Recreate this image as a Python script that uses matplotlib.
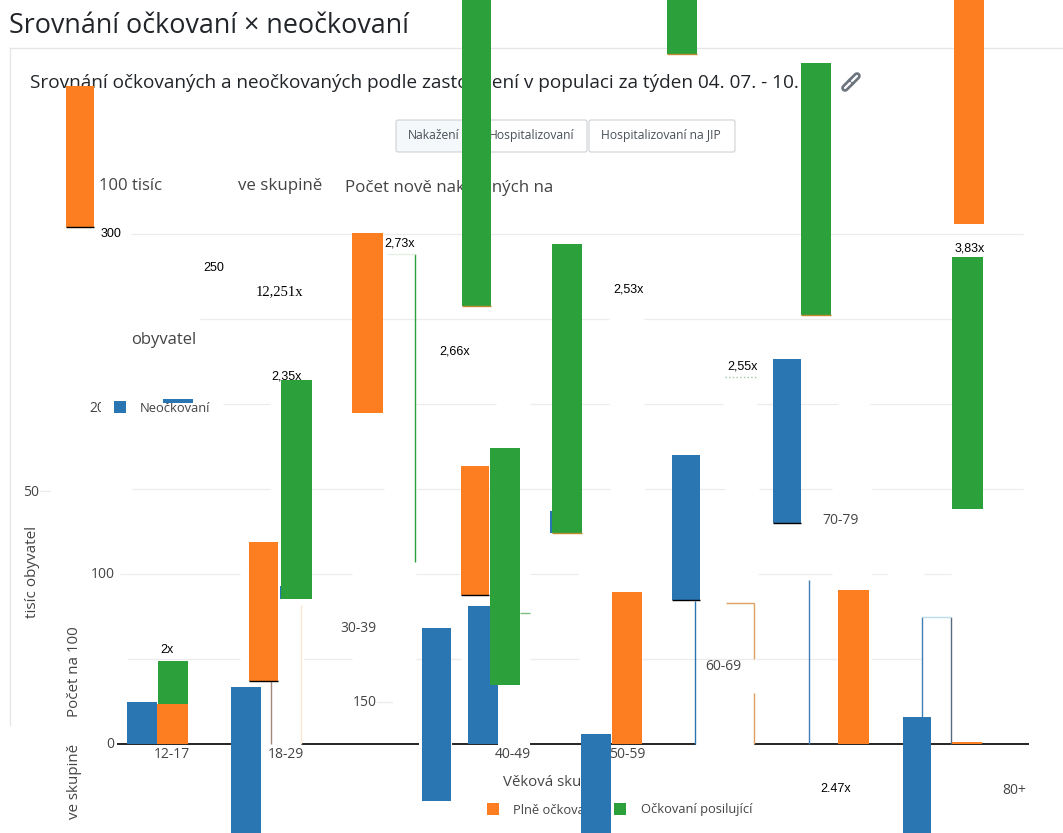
import matplotlib
matplotlib.use("Agg")
import matplotlib.pyplot as plt
from matplotlib.patches import FancyBboxPatch, Rectangle

W, H = 1063, 833

BLUE = "#2a76b2"
ORANGE = "#fd7e21"
GREEN = "#2ca03a"

# bars as they sit in the picture: left edge, width (pixels across), top and bottom in chart values
blue_left = [127, 231, 422, 468, 581, 672, 773, 903, 163, 550, 280]
blue_width = [30, 30, 29, 30, 30, 28, 28, 28, 30, 3, 3]
blue_top = [24.7, 33.5, 68.2, 81.2, 5.9, 170, 226.5, 15.9, 202.9, 137, 92.9]
blue_bottom = [0, -60, -33.5, 0, -60, 84.7, 130, -60, 200.6, 124, 85.3]

orange_left = [66, 157, 249, 352, 461, 612, 838, 954, 952]
orange_width = [28, 31, 29, 31, 28, 30, 31, 30, 30]
orange_top = [387, 23.5, 118.8, 300.6, 163.5, 89.4, 90.6, 440, 1]
orange_bottom = [304, 0, 37, 194.7, 87.6, 0, 0, 305.9, 0]

green_left = [158, 281, 462, 667, 801, 552, 490, 952]
green_width = [30, 31, 29, 30, 30, 30, 30, 31]
green_top = [48.8, 214, 440, 440, 400.6, 294, 174, 286.5]
green_bottom = [23.5, 85.3, 257.6, 405.9, 252.4, 124, 34.7, 138.2]

# leftover one pixel slivers of bars: x, top, bottom, colour
sliver_x = [695, 809, 922, 951, 415, 754, 754, 271, 301]
sliver_top = [84, 96.5, 74.7, 74.7, 288, 83, 30, 37, 82]
sliver_bottom = [0, 0, 15.9, 0, 107, 50, 0, 0, 0]
sliver_color = [BLUE, "#3f7fb5", "#3f7fb5", "#566a80", GREEN, "#e0a060", "#e0a060", "#a08878", "#fbe6d0"]

grid_values = [300, 250, 200, 150, 100, 50]
grid_spans = [
    [(131, 1023)],
    [(200, 609), (644, 952)],
    [(223, 270), (416, 496), (530, 609), (644, 723), (757, 838), (870, 952)],
    [(132, 270), (312, 384), (417, 610), (645, 725), (759, 832), (872, 1023)],
    [(120, 240), (312, 352), (416, 460), (530, 578), (758, 832), (872, 887), (924, 951)],
    [(128, 240), (304, 352), (416, 461), (530, 579), (642, 754), (756, 837), (872, 921)],
]
axis_spans = [(117, 231), (301, 419), (452, 498), (530, 581), (611, 696), (754, 903), (931, 1029)]

ratio_labels = ["2x", "2,35x", "2,73x", "2,66x", "2,53x", "2,55x", "2.47x", "3,83x"]
ratio_x = [167, 287, 400, 455, 628, 743, 836, 970]
ratio_y = [650, 376, 243, 351, 290, 366, 789, 248]

age_labels = ["12-17", "18-29", "30-39", "40-49", "50-59", "60-69", "70-79", "80+"]
age_x = [172, 286, 358, 513, 627, 723, 841, 1014]
age_y = [755, 755, 628, 755, 755, 667, 520, 790]

y_labels = ["300", "250", "20", "150", "100", "50", "0"]
y_x = [111, 214, 97, 365, 103, 31, 110]
y_y = [234, 268, 408, 703, 574, 492, 745]

plt.rcParams["font.family"] = ["Open Sans", "DejaVu Sans"]
fig = plt.figure(figsize=(W / 100, H / 100), dpi=100)

# page layer in pixels, everything written on the page sits below the bars
page = fig.add_axes([0, 0, 1, 1], zorder=1)
page.set_xlim(0, W)
page.set_ylim(H, 0)
page.axis("off")

# chart layer, 0 at pixel 744 and 300 at pixel 234
chart = fig.add_axes([0, 0, 1, 1], zorder=2)
chart.patch.set_alpha(0)
chart.set_xlim(0, W)
chart.set_ylim((744 - H) / 1.7, 744 / 1.7)
chart.axis("off")

# card
page.plot([10, 10], [48, 725], color="#e6e6e6", lw=1)
page.plot([10, W], [48, 48], color="#e6e6e6", lw=1)

page.text(9, 26, "Srovnání očkovaní × neočkovaní", fontsize=19.35, color="#212529", va="center")
page.text(30, 83, "Srovnání očkovaných a neočkovaných podle zastoupení v populaci za týden 04. 07. - 10. 07.",
          fontsize=13.72, color="#212529", va="center")

# link icon
page.plot([845, 851], [88, 82], color="#6c757d", lw=5.5, solid_capstyle="round")
page.plot([851, 857], [82, 76], color="#6c757d", lw=5.5, solid_capstyle="round")
page.plot([845, 850], [88, 83], color="white", lw=1.6, solid_capstyle="round")
page.plot([852, 857], [81, 76], color="white", lw=1.6, solid_capstyle="round")

# buttons
for x0, x1, face in [(396, 486, "#f5f8fb"), (486, 587, "white"), (589, 735, "white")]:
    page.add_patch(FancyBboxPatch((x0 + 2, 122), x1 - x0 - 4, 28, boxstyle="round,pad=2",
                                  fc=face, ec="#cfd1d3", lw=0.8))
page.text(408, 135, "Nakažení", fontsize=8.7, color="#495057", va="center")
page.text(489, 135, "Hospitalizovaní", fontsize=8.7, color="#495057", va="center")
page.text(601, 135, "Hospitalizovaní na JIP", fontsize=8.7, color="#495057", va="center")

# chart title pieces
page.text(99, 186, "100 tisíc", fontsize=12, color="#444444", va="center")
page.text(238, 186, "ve skupině", fontsize=12.2, color="#444444", va="center")
page.text(345, 188, "Počet nově nakažených na", fontsize=12.2, color="#444444", va="center")
page.text(131, 340, "obyvatel", fontsize=12, color="#444444", va="center")

page.text(33, 572, "tisíc obyvatel", fontsize=11, color="#444444", rotation=90, ha="center", va="center")
page.text(74, 672, "Počet na 100", fontsize=10.9, color="#444444", rotation=90, ha="center", va="center")
page.text(74, 781, "ve skupině", fontsize=10.9, color="#444444", rotation=90, ha="center", va="center")

page.text(503, 783, "Věková skupina", fontsize=10.8, color="#444444", va="center")

for lab, x, y in zip(y_labels, y_x, y_y):
    dark = lab in ("300", "250")
    page.text(x, y, lab, fontsize=9 if dark else 10, ha="center", va="center",
              color="black" if dark else "#444444",
              family="Liberation Sans" if dark else "Open Sans")
# the 20 tick label is cut off in the reference
page.add_patch(Rectangle((101, 398), 12, 18, fc="white", ec="none", zorder=5))
page.plot([40, 50], [491, 491], color="#ececec", lw=1)
page.plot([377, 392], [702, 702], color="#ececec", lw=1)

for lab, x, y in zip(age_labels, age_x, age_y):
    page.text(x, y, lab, fontsize=10, color="#444444", ha="center", va="center")

for lab, x, y in zip(ratio_labels, ratio_x, ratio_y):
    page.text(x, y, lab, fontsize=9, color="black", ha="center", va="center", family="Liberation Sans")
page.text(280, 292, "12,251x", fontsize=10.5, color="black", ha="center", va="center", family="Liberation Serif")

# legend
page.add_patch(Rectangle((114, 401), 12, 12, fc=BLUE, ec="none"))
page.text(140, 408, "Neočkovaní", fontsize=9.3, color="#444444", va="center")
page.add_patch(Rectangle((487, 803), 12, 12, fc=ORANGE, ec="none"))
page.text(513, 810, "Plně očkovaní", fontsize=9.3, color="#444444", va="center")
page.add_patch(Rectangle((614, 803), 12, 12, fc=GREEN, ec="none"))
page.text(641, 810, "Očkovaní posilující", fontsize=9.3, color="#444444", va="center")

# grid and zero line
for val, spans in zip(grid_values, grid_spans):
    for x0, x1 in spans:
        chart.hlines(val, x0, x1, color="#ececec", lw=0.9, zorder=1)
for x0, x1 in axis_spans:
    chart.hlines(0, x0, x1, color="black", lw=1.2, zorder=1)

# thin remains
for x, top, bottom, c in zip(sliver_x, sliver_top, sliver_bottom, sliver_color):
    chart.vlines(x, bottom, top, color=c, lw=1, zorder=2)
chart.hlines(288, 387, 415, color="#e4f0e4", lw=1, zorder=2)
chart.hlines(83, 726, 754, color="#e0a060", lw=1, zorder=2)
chart.hlines(74.7, 922, 951, color="#bcdcec", lw=1, zorder=2)
chart.hlines(216, 725, 756, color="#9fc99f", lw=1, ls=":", zorder=2)
chart.hlines(77, 520, 530, color="#7fbf7f", lw=1, zorder=2)

# the bars themselves
chart.bar(blue_left, [t - b for t, b in zip(blue_top, blue_bottom)], width=blue_width,
          bottom=blue_bottom, align="edge", color=BLUE, zorder=3)
chart.bar(orange_left, [t - b for t, b in zip(orange_top, orange_bottom)], width=orange_width,
          bottom=orange_bottom, align="edge", color=ORANGE, zorder=4)
chart.bar(green_left, [t - b for t, b in zip(green_top, green_bottom)], width=green_width,
          bottom=green_bottom, align="edge", color=GREEN, zorder=5)

# dark or orange edges left at the bar ends
for i in [0, 2, 4]:
    chart.hlines(orange_bottom[i], orange_left[i], orange_left[i] + orange_width[i], color="black", lw=1, zorder=6)
for i in [5, 6]:
    chart.hlines(blue_bottom[i], blue_left[i], blue_left[i] + blue_width[i], color="black", lw=1, zorder=6)
for i in [2, 3, 4, 5]:
    chart.hlines(green_bottom[i], green_left[i], green_left[i] + green_width[i], color="#c08a30", lw=1, zorder=6)

fig.savefig("out.png", dpi=100)
